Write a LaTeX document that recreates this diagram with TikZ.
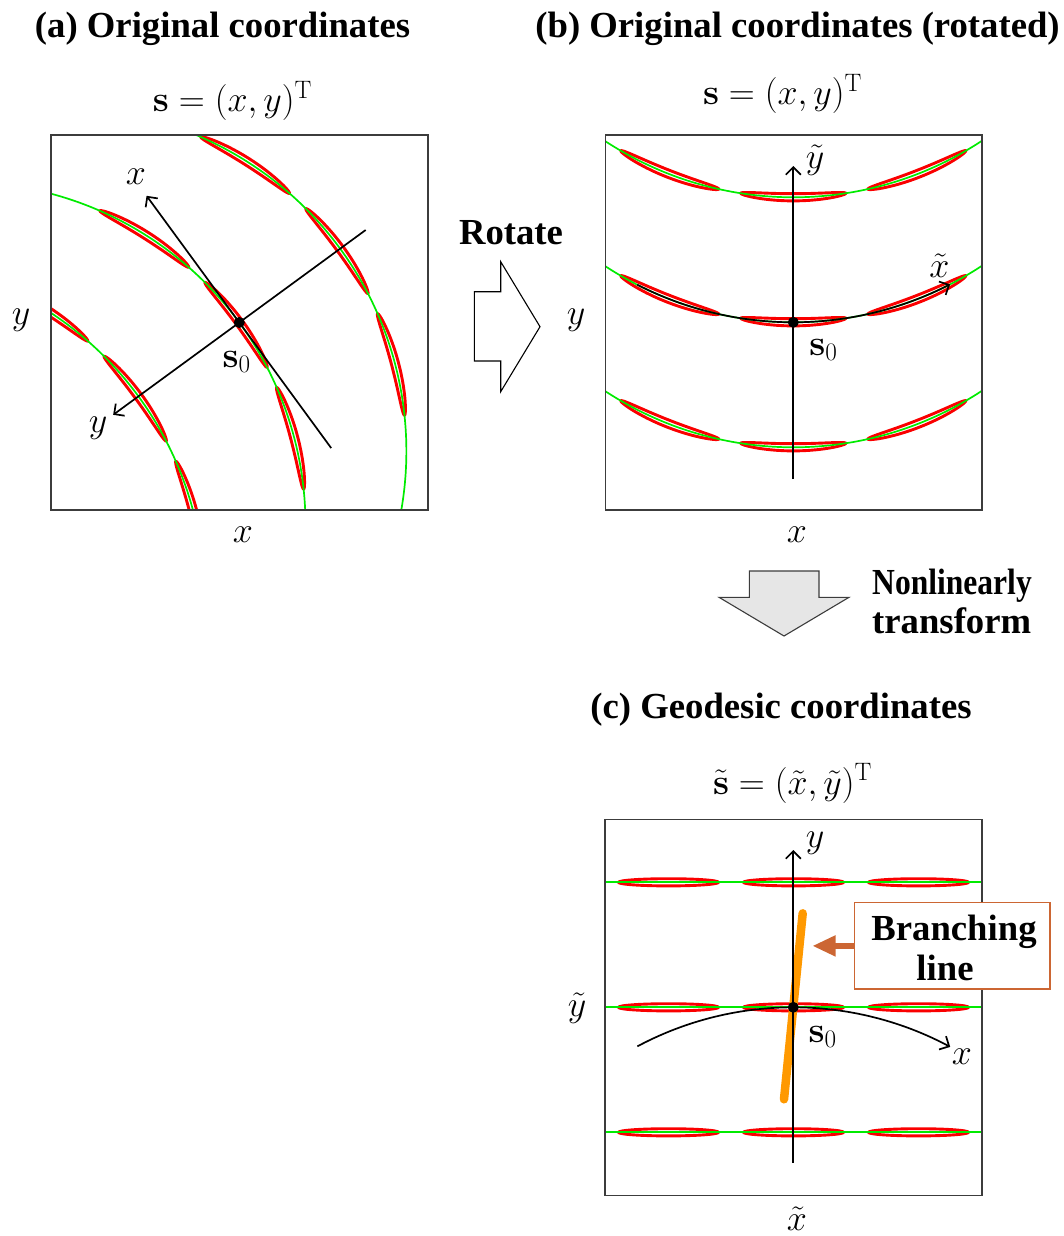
\RequirePackage{fix-cm}
\documentclass[tikz,border=0pt]{standalone}
\usepackage[no-math]{fontspec}
\usepackage{graphicx}
\newfontfamily\tms{Liberation Serif}
\usetikzlibrary{arrows.meta}
\definecolor{grn}{RGB}{0,235,0}
\definecolor{rd}{RGB}{250,0,0}
\definecolor{org}{RGB}{255,153,0}
\definecolor{brn}{RGB}{204,102,51}
\definecolor{frm}{RGB}{60,60,60}
\definecolor{arrfill}{RGB}{230,230,230}
\newcommand{\curvefield}{%
  \foreach \yo in {-125,0,125}{%
    \foreach \pc in {-21.37,0,21.37}{%
      \draw[banana] plot[domain=0:355, samples=72, smooth cycle]
        ({(343+3.6*sin(\x))*sin(\pc+8.8*cos(\x))},{\yo-343+(343+3.6*sin(\x))*cos(\pc+8.8*cos(\x))});
    }
    \draw[geo] plot[domain=-80:80, samples=81, smooth] ({343*sin(\x)},{\yo-343+343*cos(\x)});
  }%
}
\begin{document}
\begin{tikzpicture}[x=1pt,y=-1pt,
  banana/.style={draw=rd, line width=2.9pt},
  geo/.style={draw=grn, line width=1.7pt},
  frame/.style={draw=frm, line width=1.4pt},
  axis/.style={line width=1.7pt, -{Straight Barb[length=7.5pt,width=15pt]}},
  ttl/.style={font=\tms\bfseries\fontsize{36.7}{44}\selectfont, inner sep=0pt},
  mth/.style={font=\fontsize{36}{43}\selectfont, inner sep=0pt},
  dot/.style={fill=black}
]
\useasboundingbox (0,0) rectangle (1064,1236);

% ---------- panel (a)
\node[ttl, anchor=base] (ta) at (222.5,38) {(a) Original coordinates};
\node[mth, anchor=base] (fa) at (232.5,112) {$\mathbf{s}=(x,y)^{\mathrm{T}}$};
\coordinate (s0a) at (239.3,322.5);
\begin{scope}
  \clip (51,135) rectangle (428,510);
  \begin{scope}[shift={(s0a)}, rotate=126.2]
    \curvefield
    \draw[axis] (-155.6,0) -- (157,0);
    \draw[axis] (0,156.6) -- (0,-156.3);
  \end{scope}
\end{scope}
\draw[frame] (51,135) rectangle (428,510);
\fill[dot] (s0a) circle[radius=5.5];
\node[mth] (lya) at (21,320) {$y$};
\node[mth] (lxa) at (243,535) {$x$};
\node[mth] (axa) at (136,177) {$x$};
\node[mth] (aya) at (98,428) {$y$};
\node[mth] (sla) at (236.7,361.8) {$\mathbf{s}_0$};

% ---------- rotate arrow
\node[ttl, anchor=base] (rot) at (511,244) {Rotate};
\draw[line width=1.1pt, fill=white] (474.3,291.7) -- (500.7,291.7) -- (500.7,261.7) -- (540,326.7) -- (500.7,391.7) -- (500.7,361) -- (474.3,361) -- cycle;

% ---------- panel (b)
\node[ttl, anchor=base] (tb) at (797.5,38) {(b) Original coordinates (rotated)};
\node[mth, anchor=base] (fb) at (782.5,104.7) {$\mathbf{s}=(x,y)^{\mathrm{T}}$};
\coordinate (s0b) at (793.3,322.3);
\begin{scope}
  \clip (605.5,135) rectangle (982,510);
  \begin{scope}[shift={(s0b)}]
    \curvefield
    \draw[axis] plot[domain=-27.1:27.2, samples=40, smooth] ({343*sin(\x)},{-343+343*cos(\x)});
    \draw[axis] (0,156.7) -- (0,-156.3);
  \end{scope}
\end{scope}
\draw[frame] (605.5,135) rectangle (982,510);
\fill[dot] (s0b) circle[radius=5.5];
\node[mth] (lyb) at (576,320) {$y$};
\node[mth] (lxb) at (797,535) {$x$};
\node[mth] (tyb) at (815,160) {$\tilde{y}$};
\node[mth] (txb) at (939.5,266) {$\tilde{x}$};
\node[mth] (slb) at (823.3,350) {$\mathbf{s}_0$};

% ---------- down arrow
\draw[draw=frm, line width=1.1pt, fill=arrfill] (749.3,571) -- (819,571) -- (819,597.3) -- (849,597.3) -- (784,636) -- (719,597.3) -- (749.3,597.3) -- cycle;
\node[ttl, anchor=base west] (nl1) at (872,594) {\scalebox{0.86}[1]{Nonlinearly}};
\node[ttl, anchor=base west] (nl2) at (872,633) {transform};

% ---------- panel (c)
\node[ttl, anchor=base] (tc) at (781,718) {(c) Geodesic coordinates};
\node[mth, anchor=base] (fc) at (792.5,794) {$\tilde{\mathbf{s}}=(\tilde{x},\tilde{y})^{\mathrm{T}}$};
\coordinate (s0c) at (793.3,1007.3);
\foreach \r in {882.3,1007.3,1132.3}{
  \foreach \cx in {668.5,793.5,918.5}{
    \draw[banana] (\cx,\r) ellipse[x radius=50, y radius=3.6];
  }
  \draw[geo] (605,\r) -- (982,\r);
}
\draw[org, line width=8.5pt, line cap=round] (784,1099.3) -- (802.7,913.3);
\draw[axis] (793.3,1162.7) -- (793.3,850);
\draw[axis] plot[domain=-28.1:28.3, samples=40, smooth] ({793.3+331*sin(\x)},{1338.3-331*cos(\x)});
\draw[frame] (605,819.5) rectangle (982,1195.5);
\fill[dot] (s0c) circle[radius=5.5];
\node[mth] (lyc) at (577,1008) {$\tilde{y}$};
\node[mth] (lxc) at (797,1219) {$\tilde{x}$};
\node[mth] (ayc) at (815,843) {$y$};
\node[mth] (axc) at (962,1057) {$x$};
\node[mth] (slc) at (822.7,1036.7) {$\mathbf{s}_0$};

% ---------- branching line callout
\node[draw=brn, line width=1.3pt, fill=white, minimum width=195.7pt, minimum height=86.3pt, inner sep=0pt] (bx) at (952.2,945.9) {};
\node[ttl, anchor=base] (br1) at (954,940.5) {Branching};
\node[ttl, anchor=base] (br2) at (945,980.7) {line};
\coordinate (brtip) at (812.3,945.9);
\draw[brn, line width=6.6pt, -{Triangle[length=23.4pt,width=19.7pt]}] (bx.west) -- (brtip);
\end{tikzpicture}
\end{document}
